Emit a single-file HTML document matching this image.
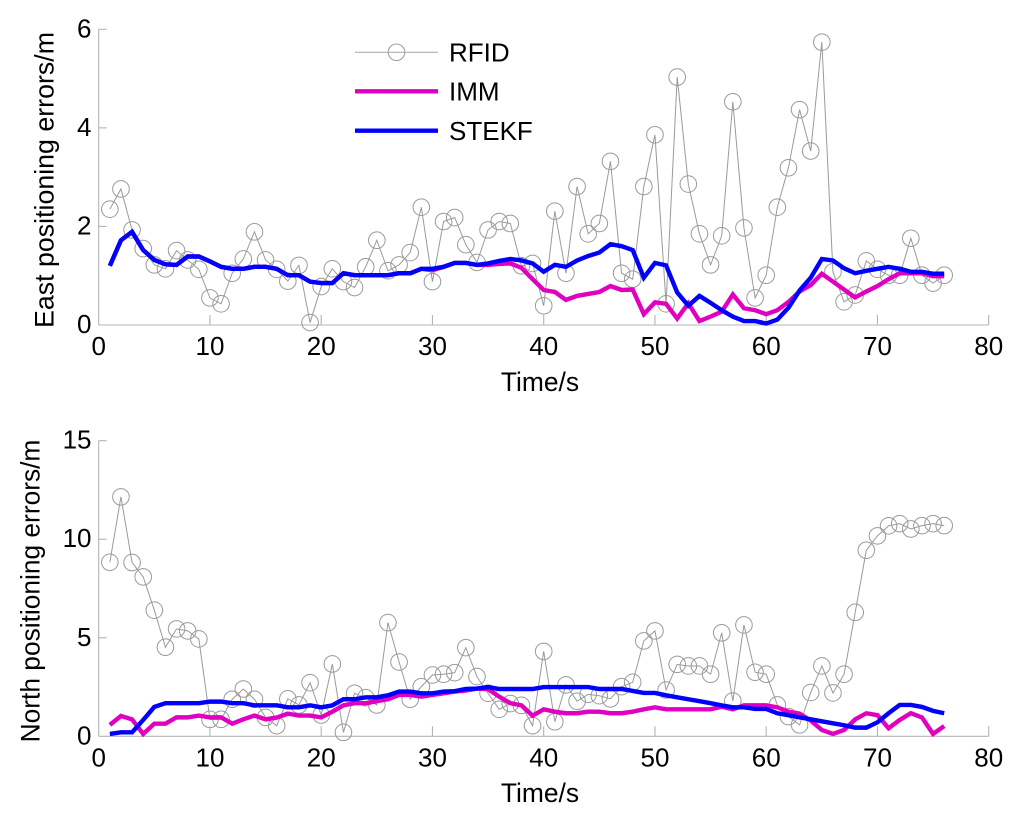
<!DOCTYPE html>
<html>
<head>
<meta charset="utf-8">
<title>Positioning errors</title>
<style>
html,body{margin:0;padding:0;background:#fff;}
svg{display:block;}
text{font-family:"Liberation Sans",sans-serif;fill:#000;}
</style>
</head>
<body>
<svg id="chart" xmlns="http://www.w3.org/2000/svg" width="1024" height="819" viewBox="0 0 1024 819">
  <rect width="1024" height="819" fill="#fff"/>
  <text x="0" y="0" font-size="27" text-anchor="middle" textLength="296" lengthAdjust="spacingAndGlyphs" transform="translate(53.3 180) rotate(-90)">East positioning errors/m</text>
  <text x="0" y="0" font-size="26.4" text-anchor="middle" textLength="302.7" lengthAdjust="spacingAndGlyphs" transform="translate(39.3 591) rotate(-90)">North positioning errors/m</text>
  <text x="540" y="391" font-size="26.4" text-anchor="middle">Time/s</text>
  <text x="540" y="802" font-size="26.4" text-anchor="middle">Time/s</text>
  <g id="east-plot"></g>
  <g id="north-plot"></g>
  <g>
    <g>
      <line x1="355" x2="438" y1="52.3" y2="52.3" stroke="#b0b0b0" stroke-width="1.2"/>
      <circle cx="396.5" cy="52.3" r="8.3" fill="none" stroke="#a0a0a0" stroke-width="1.1"/>
      <text x="449" y="61.5" font-size="26">RFID</text>
    </g>
    <g>
      <line x1="355" x2="438" y1="91.3" y2="91.3" stroke="#e000c0" stroke-width="4.4"/>
      <text x="449" y="100.5" font-size="26">IMM</text>
    </g>
    <g>
      <line x1="355" x2="438" y1="130.7" y2="130.7" stroke="#0000ff" stroke-width="4.4"/>
      <text x="449" y="140" font-size="26">STEKF</text>
    </g>
  </g>
</svg>
<script>
var xTicks = [0, 10, 20, 30, 40, 50, 60, 70, 80];
var eastYTicks = [0, 2, 4, 6];
var northYTicks = [0, 5, 10, 15];
var eastRfid = [2.35,2.76,1.93,1.55,1.22,1.14,1.51,1.32,1.13,0.55,0.43,1.05,1.34,1.89,1.32,1.13,0.89,1.21,0.05,0.78,1.14,0.88,0.76,1.18,1.72,1.10,1.22,1.47,2.39,0.88,2.10,2.18,1.63,1.27,1.93,2.10,2.06,1.20,1.25,0.39,2.31,1.05,2.81,1.85,2.06,3.32,1.05,0.93,2.81,3.86,0.43,5.03,2.86,1.85,1.22,1.81,4.53,1.97,0.55,1.01,2.39,3.19,4.37,3.53,5.74,1.08,0.47,0.61,1.30,1.13,1.01,1.01,1.76,1.01,0.85,1.01];
var eastImm = [1.20,1.72,1.89,1.52,1.32,1.23,1.22,1.39,1.39,1.29,1.18,1.14,1.14,1.18,1.18,1.14,1.01,1.01,0.88,0.85,0.85,1.05,1.01,1.01,1.01,1.01,1.05,1.05,1.14,1.11,1.18,1.26,1.26,1.22,1.22,1.24,1.25,1.16,0.93,0.71,0.67,0.51,0.59,0.63,0.67,0.79,0.71,0.72,0.22,0.46,0.43,0.13,0.44,0.08,0.17,0.27,0.62,0.34,0.30,0.22,0.30,0.47,0.68,0.81,1.04,0.88,0.72,0.56,0.68,0.79,0.93,1.05,1.05,1.05,0.99,0.99];
var eastStekf = [1.20,1.72,1.89,1.52,1.32,1.23,1.22,1.39,1.39,1.29,1.18,1.14,1.14,1.18,1.18,1.14,1.01,1.01,0.88,0.85,0.85,1.05,1.01,1.01,1.01,1.01,1.05,1.05,1.14,1.14,1.18,1.26,1.26,1.22,1.25,1.30,1.34,1.31,1.25,1.08,1.22,1.18,1.31,1.40,1.47,1.64,1.60,1.52,0.96,1.26,1.21,0.66,0.39,0.59,0.45,0.30,0.17,0.08,0.08,0.03,0.11,0.35,0.70,0.96,1.34,1.31,1.15,1.05,1.10,1.14,1.18,1.14,1.08,1.08,1.04,1.04];
var northRfid = [8.83,12.15,8.82,8.09,6.40,4.52,5.45,5.35,4.94,0.86,0.86,1.88,2.40,1.88,0.96,0.54,1.90,1.59,2.72,1.08,3.67,0.20,2.18,1.96,1.59,5.77,3.77,1.88,2.52,3.11,3.15,3.23,4.50,3.03,2.18,1.37,1.66,1.57,0.54,4.31,0.74,2.61,1.78,2.13,2.06,1.90,2.52,2.74,4.84,5.35,2.35,3.65,3.57,3.57,3.15,5.25,1.79,5.65,3.25,3.15,1.59,1.00,0.58,2.22,3.57,2.20,3.15,6.29,9.44,10.17,10.68,10.79,10.52,10.69,10.79,10.69];
var northImm = [0.58,1.03,0.86,0.12,0.64,0.64,0.96,0.96,1.05,0.96,0.96,0.64,0.86,1.05,0.86,0.95,1.15,1.05,1.05,0.96,1.25,1.57,1.68,1.68,1.78,1.88,2.10,2.10,2.01,2.10,2.18,2.27,2.32,2.42,2.39,2.01,1.68,1.57,1.05,1.37,1.25,1.17,1.17,1.25,1.25,1.17,1.17,1.25,1.37,1.47,1.37,1.37,1.37,1.37,1.37,1.50,1.37,1.57,1.57,1.57,1.47,1.25,1.15,0.80,0.32,0.12,0.32,0.86,1.17,1.07,0.41,0.83,1.17,0.96,0.12,0.52];
var northStekf = [0.12,0.20,0.20,0.83,1.49,1.68,1.68,1.68,1.68,1.76,1.76,1.68,1.68,1.57,1.57,1.57,1.47,1.47,1.57,1.47,1.57,1.88,1.88,1.98,1.98,2.08,2.27,2.27,2.18,2.18,2.27,2.29,2.40,2.42,2.50,2.40,2.40,2.40,2.40,2.50,2.50,2.50,2.50,2.50,2.40,2.40,2.40,2.30,2.20,2.20,2.08,1.98,1.88,1.78,1.68,1.57,1.47,1.47,1.39,1.39,1.17,1.07,0.96,0.86,0.76,0.66,0.56,0.44,0.44,0.71,1.17,1.59,1.59,1.49,1.29,1.17];

var NS = 'http://www.w3.org/2000/svg';
var X_LEFT = 98.7, X_RIGHT = 988.7, X_MAX = 80;

function xScale(v) {
  return X_LEFT + (X_RIGHT - X_LEFT) * v / X_MAX;
}

function makeYScale(yBottom, yTop, maxValue) {
  return function (v) {
    return yBottom - (yBottom - yTop) * v / maxValue;
  };
}

function svgEl(tag, attrs, parent) {
  var el = document.createElementNS(NS, tag);
  for (var k in attrs) el.setAttribute(k, attrs[k]);
  parent.appendChild(el);
  return el;
}

function pointsOf(values, yScale) {
  return values.map(function (v, i) {
    return xScale(i + 1).toFixed(2) + ',' + yScale(v).toFixed(2);
  }).join(' ');
}

function drawPlot(group, prefix, yBottom, yTop, yTicks, xLabelBaseline, rfid, imm, stekf) {
  var yMax = yTicks[yTicks.length - 1];
  var yScale = makeYScale(yBottom, yTop, yMax);
  var axisColor = '#b4b4b4';

  var yAxis = svgEl('line', {x1: X_LEFT, x2: X_LEFT, y1: yTop, y2: yBottom, stroke: axisColor, 'stroke-width': 1.1}, group);
  
  
  var xAxis = svgEl('line', {x1: X_LEFT, x2: X_RIGHT, y1: yBottom, y2: yBottom, stroke: axisColor, 'stroke-width': 1.1}, group);
  
  

  xTicks.forEach(function (t) {
    var px = xScale(t);
    if (t > 0) {
      var tick = svgEl('line', {x1: px, x2: px, y1: yBottom, y2: yBottom - 10, stroke: axisColor, 'stroke-width': 1.1}, group);
      
      
    }
    var label = svgEl('text', {x: px, y: xLabelBaseline, 'font-size': 26, 'text-anchor': 'middle'}, group);
    
    
    label.textContent = String(t);
  });

  yTicks.forEach(function (t) {
    var py = yScale(t);
    if (t > 0) {
      var tick = svgEl('line', {x1: X_LEFT, x2: X_LEFT + 8, y1: py, y2: py, stroke: axisColor, 'stroke-width': 1.1}, group);
      
      
    }
    var label = svgEl('text', {x: 91.5, y: py + 8, 'font-size': 26, 'text-anchor': 'end'}, group);
    
    
    label.textContent = String(t);
  });

  var rfidLine = svgEl('polyline', {points: pointsOf(rfid, yScale), fill: 'none', stroke: '#9a9a9a', 'stroke-width': 1}, group);
  
  

  rfid.forEach(function (v, i) {
    var c = svgEl('circle', {cx: xScale(i + 1), cy: yScale(v), r: 8.3, fill: 'none', stroke: '#9a9a9a', 'stroke-width': 1}, group);
    
    
  });

  var immLine = svgEl('polyline', {points: pointsOf(imm, yScale), fill: 'none', stroke: '#e000c0', 'stroke-width': 4.4, 'stroke-linejoin': 'miter'}, group);
  
  

  var stekfLine = svgEl('polyline', {points: pointsOf(stekf, yScale), fill: 'none', stroke: '#0000ff', 'stroke-width': 4.4, 'stroke-linejoin': 'miter'}, group);
  
  
}

drawPlot(document.getElementById('east-plot'), 'east', 325, 29.3, eastYTicks, 355, eastRfid, eastImm, eastStekf);
drawPlot(document.getElementById('north-plot'), 'north', 736.3, 440.7, northYTicks, 766.5, northRfid, northImm, northStekf);
</script>
</body>
</html>
